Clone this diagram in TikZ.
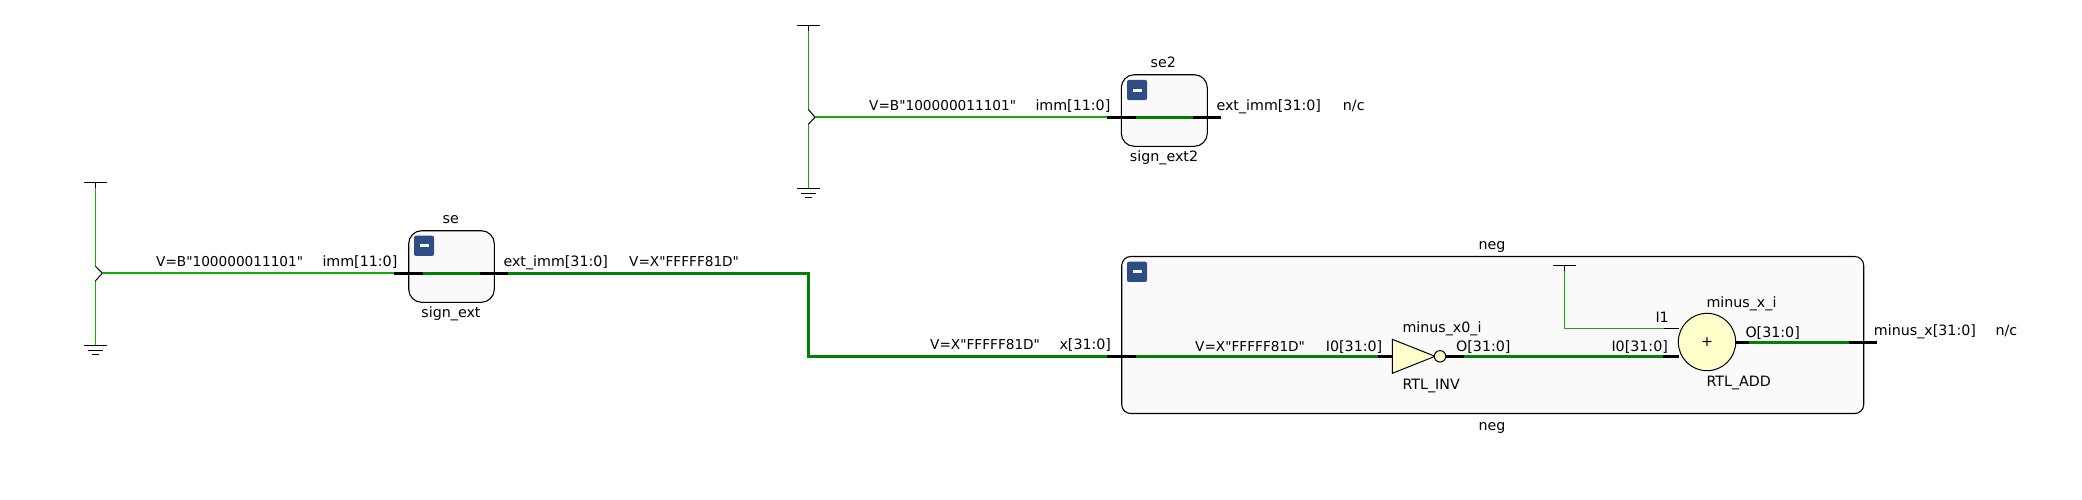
\documentclass[tikz,border=0pt]{standalone}
\usepackage{fontspec}
\newfontfamily\labelfont{DejaVu Sans}
\definecolor{wirelight}{HTML}{10B000}
\definecolor{wiredark}{HTML}{007F00}
\definecolor{hierfill}{HTML}{FAFAFA}
\definecolor{gatefill}{HTML}{FFFFCC}
\definecolor{buttonblue}{HTML}{2F4D85}
\tikzset{
  txt/.style={
    inner sep=0pt,
    anchor=base west,
    font=\labelfont\fontsize{14.25}{16}\selectfont
  },
  ctxt/.style={
    txt,
    anchor=base
  },
  val/.style={
    txt,
    font=\labelfont\fontsize{13.65}{16}\selectfont
  },
  hier/.style={
    draw,
    rectangle,
    inner sep=0pt,
    line width=1.1pt,
    fill=hierfill,
    rounded corners=13pt
  },
  button/.style={
    inner sep=0pt,
    fill=buttonblue,
    rounded corners=2pt,
    minimum width=20pt,
    minimum height=20.3pt
  },
  minus/.style={
    inner sep=0pt,
    fill=white,
    minimum width=9pt,
    minimum height=3pt
  },
  gate/.style={
    draw,
    inner sep=0pt,
    line width=1pt,
    fill=gatefill
  },
  net/.style={
    wirelight,
    line width=1.3pt
  },
  net1/.style={
    wirelight,
    line width=2pt
  },
  bus/.style={
    wiredark,
    line width=2.8pt
  },
  port/.style={
    black,
    line width=3pt
  },
  pin/.style={
    black,
    line width=1pt
  },
  vcc/.pic={
    \draw[pin] (-11.3,0) -- (11.3,0) (0,0) -- (0,5.2);
  },
  gnd/.pic={
    \draw[pin] (-11.3,0) -- (11.3,0) (-7.6,5) -- (7.6,5) (-3.7,9) -- (3.7,9);
  }
}
\begin{document}
\begin{tikzpicture}[x=1pt,y=-1pt]
    \useasboundingbox (0,0) rectangle (2082,499);

    \node[hier, minimum width=85.6pt, minimum height=71.6pt] at (451.5,266.5) (se) {};
    \node[button] at (424,245.8) (seBtn) {};
    \node[minus] at (seBtn.center) (seBar) {};
    \node[hier, minimum width=86pt, minimum height=71.6pt] at (1164.3,110.5) (se2) {};
    \node[button] at (1137,90) (se2Btn) {};
    \node[minus] at (se2Btn.center) (se2Bar) {};
    \node[hier, rounded corners=9pt, minimum width=742pt, minimum height=157pt] at (1492.7,335) (neg) {};
    \node[button] at (1137,271.8) (negBtn) {};
    \node[minus] at (negBtn.center) (negBar) {};

    \coordinate (vcc1) at (95.3,182.7);
    \coordinate (vcc1s) at (95.3,187.7);
    \coordinate (ch1a) at (95.3,266);
    \coordinate (ch1t) at (102.3,273.3);
    \coordinate (ch1b) at (95.3,281);
    \coordinate (gnd1) at (95.3,345);
    \coordinate (seA) at (394,273.3);
    \coordinate (seB) at (423.3,273.3);
    \coordinate (seC) at (480,273.3);
    \coordinate (seD) at (508,273.3);
    \coordinate (xA) at (1107.3,356.3);
    \coordinate (xB) at (1136,356.3);
    \coordinate (bend) at (808.7,273.3);
    \coordinate (bend2) at (808.7,356.3);

    \coordinate (vcc2) at (808.3,25.3);
    \coordinate (vcc2s) at (808.3,30.7);
    \coordinate (ch2a) at (808.3,109.3);
    \coordinate (ch2t) at (815,117.3);
    \coordinate (ch2b) at (808.3,124.3);
    \coordinate (gnd2) at (808.3,188.3);
    \coordinate (se2A) at (1107,117.3);
    \coordinate (se2B) at (1136,117.3);
    \coordinate (se2C) at (1193,117.3);
    \coordinate (se2D) at (1221,117.3);

    \coordinate (invA) at (1392.3,339.3);
    \coordinate (invB) at (1435,356.3);
    \coordinate (invC) at (1392.3,373.3);
    \draw[gate] (invA) -- (invB) -- (invC) -- cycle;
    \node[gate, circle, minimum size=11.4pt] at (1440,356.3) (bubble) {};
    \node[gate, circle, minimum size=57.4pt, font=\labelfont\fontsize{14.25}{16}\selectfont] at (1707,342) (add) {+};

    \coordinate (invI) at (1378,356.3);
    \coordinate (invJ) at (1392.3,356.3);
    \coordinate (invO) at (1445.7,356.3);
    \coordinate (invP) at (1464,356.3);
    \coordinate (addI) at (1663.3,356.3);
    \coordinate (addJ) at (1678.6,356.3);
    \coordinate (vcc3) at (1564.3,265.3);
    \coordinate (vcc3s) at (1564.3,270.7);
    \coordinate (i1A) at (1664,328.3);
    \coordinate (i1B) at (1679,328.3);
    \coordinate (addO) at (1735.7,342.3);
    \coordinate (addP) at (1749,342.3);
    \coordinate (outA) at (1849,342.3);
    \coordinate (outB) at (1876.7,342.3);

    \pic at (vcc1) {vcc};
    \pic at (gnd1) {gnd};
    \pic at (vcc2) {vcc};
    \pic at (gnd2) {gnd};
    \pic at (vcc3) {vcc};

    \path
      (vcc1s) edge[net] (ch1a) (ch1b) edge[net] (gnd1)
      (vcc2s) edge[net] (ch2a) (ch2b) edge[net] (gnd2);
    \draw[pin] (ch1a) -- (ch1t) -- (ch1b);
    \draw[pin] (ch2a) -- (ch2t) -- (ch2b);
    \path
      (ch1t) edge[net1] (seA) (seA) edge[port] (seB) (seB) edge[bus] (seC) (seC) edge[port] (seD)
      (ch2t) edge[net1] (se2A) (se2A) edge[port] (se2B) (se2B) edge[bus] (se2C) (se2C) edge[port] (se2D);
    \draw[bus, line cap=butt, line join=miter] (seD) -- (bend) -- (bend2) -- (xA);
    \path
      (xA) edge[port] (xB) (xB) edge[bus] (invI) (invI) edge[port] (invJ)
      (invO) edge[port] (invP) (invP) edge[bus] (addI) (addI) edge[port] (addJ)
      (addO) edge[port] (addP) (addP) edge[bus] (outA) (outA) edge[port] (outB)
      (i1A) edge[pin] (i1B);
    \draw[net] (vcc3s) |- (i1A);

    \node[val] at (156,266) (valA) {V=B"100000011101"};
    \node[txt] at (322.3,266) (immA) {imm[11:0]};
    \node[ctxt] at (450.7,223.3) (seName) {se};
    \node[ctxt] at (451,317.3) (seType) {sign\_ext};
    \node[txt] at (503.3,266) (extA) {ext\_imm[31:0]};
    \node[val] at (629,266) (valB) {V=X"FFFFF81D"};
    \node[val] at (930,349.3) (valC) {V=X"FFFFF81D"};
    \node[txt] at (1059.3,349.3) (xName) {x[31:0]};

    \node[val] at (869,110) (valD) {V=B"100000011101"};
    \node[txt] at (1035.3,110) (immB) {imm[11:0]};
    \node[ctxt] at (1163.3,67.3) (se2Name) {se2};
    \node[ctxt] at (1164,161.3) (se2Type) {sign\_ext2};
    \node[txt] at (1216.3,110) (extB) {ext\_imm[31:0]};
    \node[txt] at (1342.7,110) (ncA) {n/c};

    \node[ctxt] at (1492,249.7) (negName) {neg};
    \node[ctxt] at (1492,430) (negType) {neg};
    \node[val] at (1195,351.3) (valE) {V=X"FFFFF81D"};
    \node[txt] at (1325.7,351.3) (invIn) {I0[31:0]};
    \node[txt] at (1402.3,332.3) (invName) {minus\_x0\_i};
    \node[txt] at (1456,351.3) (invOut) {O[31:0]};
    \node[txt] at (1402.3,389.3) (invType) {RTL\_INV};
    \node[txt] at (1655.3,322) (addI1) {I1};
    \node[txt] at (1611.3,351.3) (addIn) {I0[31:0]};
    \node[txt] at (1706.3,307.3) (addName) {minus\_x\_i};
    \node[txt] at (1745.3,337.3) (addOut) {O[31:0]};
    \node[txt] at (1706.3,386) (addType) {RTL\_ADD};
    \node[txt] at (1873.7,335.3) (outName) {minus\_x[31:0]};
    \node[txt] at (1995.3,335.3) (ncB) {n/c};
  \end{tikzpicture}
\end{document}
